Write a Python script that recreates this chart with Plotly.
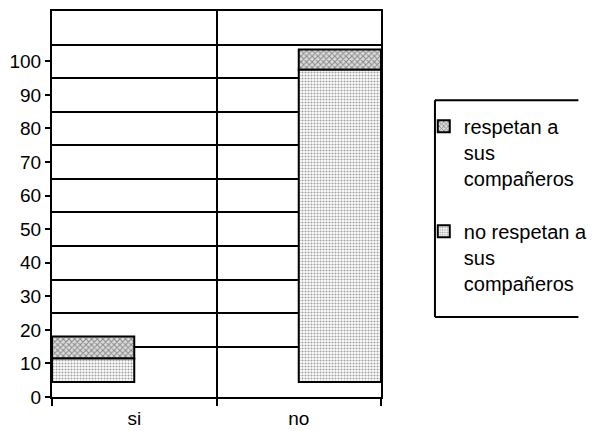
import plotly.graph_objects as go

categories = ["si", "no"]
no_respetan = [7, 93]
respetan = [6.5, 6]
base_level = [4.5, 4.5]
y_tick_values = [0, 10, 20, 30, 40, 50, 60, 70, 80, 90, 100]
grid_values = [15, 25, 35, 45, 55, 65, 75, 85, 95, 105]

name_resp = "respetan a<br>sus<br>compañeros"
name_noresp = "no respetan a<br>sus<br>compañeros"

fig = go.Figure()
fig.add_trace(go.Bar(
    x=categories, y=respetan, base=[b + v for b, v in zip(base_level, no_respetan)], name=name_resp,
    width=0.5, offset=[-0.5, 0], legendgroup="a",
    marker=dict(color="white", line=dict(color="black", width=2),
                pattern=dict(shape="x", size=4, solidity=0.45, fgcolor="#333333", bgcolor="#dddddd")),
))
fig.add_trace(go.Bar(
    x=categories, y=no_respetan, base=base_level, name=name_noresp,
    width=0.5, offset=[-0.5, 0], legendgroup="b",
    marker=dict(color="white", line=dict(color="black", width=2),
                pattern=dict(shape=".", size=3, solidity=0.4, fgcolor="#444444", bgcolor="white")),
))
# empty helper trace so the labelled overlay axis is drawn
fig.add_trace(go.Scatter(x=[], y=[], yaxis="y2", showlegend=False, hoverinfo="skip"))

font = "Liberation Sans, Arial, sans-serif"
box_x0, box_x1, box_y0, box_y1 = 1.164, 1.6, 0.207, 0.769
line_style = dict(color="black", width=2)
fig.update_layout(
    width=595, height=423,
    margin=dict(l=44, r=222, t=3, b=34, autoexpand=False),
    paper_bgcolor="white", plot_bgcolor="white",
    barmode="overlay",
    font=dict(family=font, size=19, color="black"),
    showlegend=True,
    legend=dict(x=1.13, y=0.752, xanchor="left", yanchor="top",
                traceorder="grouped", tracegroupgap=24, valign="top",
                font=dict(size=20, family=font, color="black"),
                bgcolor="rgba(0,0,0,0)", borderwidth=0, itemwidth=30),
    xaxis=dict(range=[-0.5, 1.5], tickson="boundaries", ticks="outside", ticklen=7,
               tickwidth=1.5, tickcolor="black", showgrid=True, gridcolor="black", gridwidth=1.5,
               showline=True, linecolor="black", linewidth=2, mirror=True,
               tickfont=dict(size=19), ticklabelstandoff=3),
    yaxis=dict(range=[0, 115], tickvals=grid_values, showticklabels=False, ticks="",
               showgrid=True, gridcolor="black", gridwidth=1.5, zeroline=False,
               showline=True, linecolor="black", linewidth=2, mirror=True),
    yaxis2=dict(range=[0, 115], overlaying="y", side="left", anchor="x",
                tickvals=y_tick_values, ticks="outside", ticklen=6, tickwidth=1.5,
                tickcolor="black", showgrid=False, zeroline=False, showline=False,
                tickfont=dict(size=19)),
    shapes=[
        dict(type="line", xref="paper", yref="paper", x0=box_x0, x1=box_x1, y0=box_y1, y1=box_y1, line=line_style),
        dict(type="line", xref="paper", yref="paper", x0=box_x0, x1=box_x1, y0=box_y0, y1=box_y0, line=line_style),
        dict(type="line", xref="paper", yref="paper", x0=box_x0, x1=box_x0, y0=box_y0, y1=box_y1, line=line_style),
    ],
)

fig.write_html("out.html")
